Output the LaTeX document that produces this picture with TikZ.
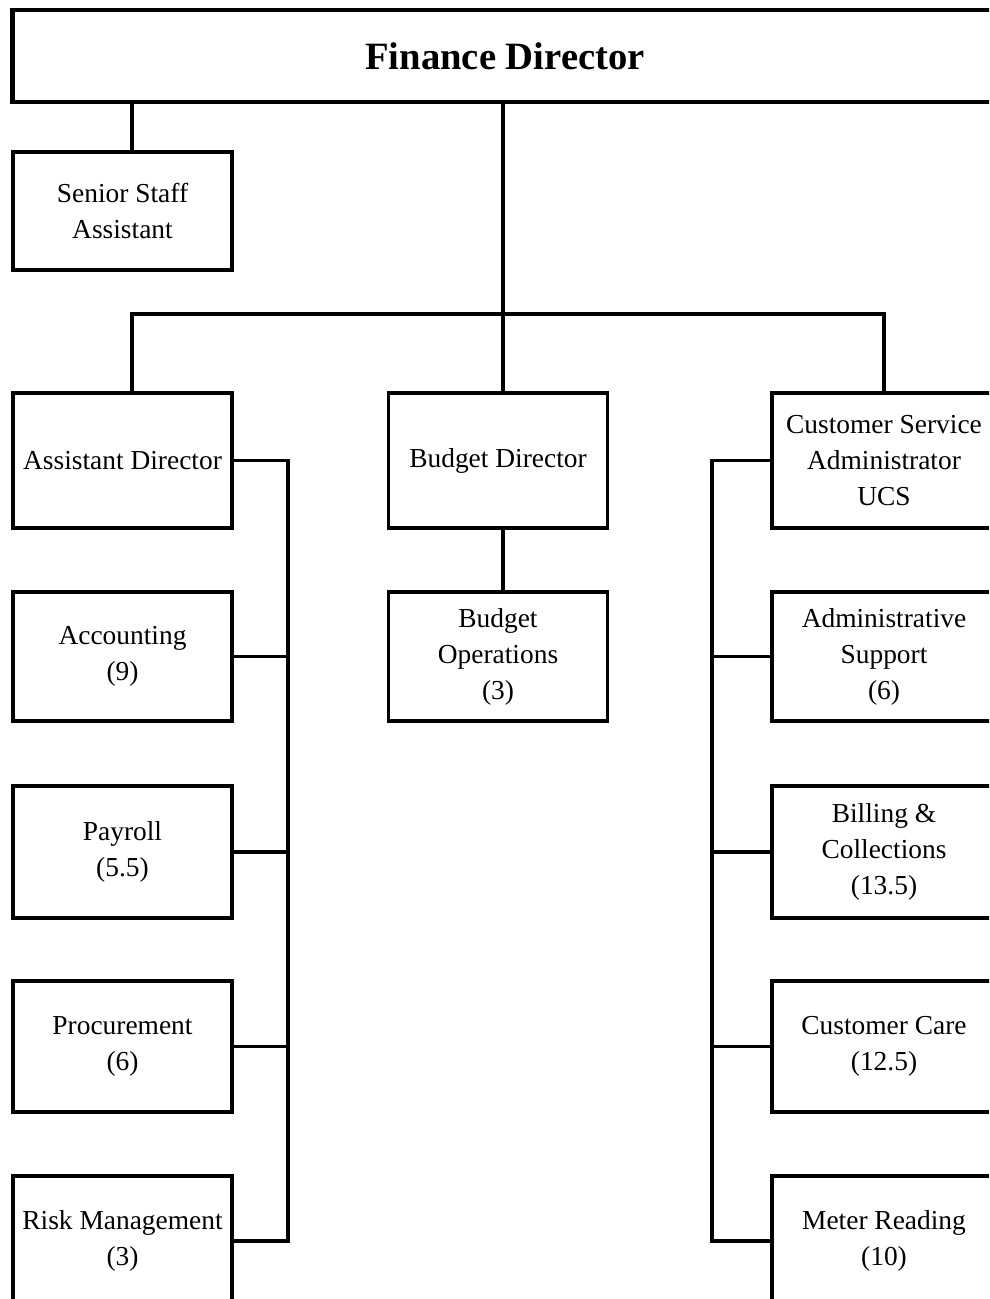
\documentclass[tikz,border=0pt]{standalone}
\usepackage{fontspec}
\setmainfont{Liberation Serif}
\usepackage{tikz}
\usetikzlibrary{positioning}
\usetikzlibrary{calc}

\begin{document}
\begin{tikzpicture}[x=0.025cm, y=-0.025cm,
    unit/.style={draw, line width=2.2pt, fill=white, align=center, inner sep=0pt,
        font=\fontsize{19.5}{25.6}\selectfont, minimum width=5.475cm},
    head/.style={draw, line width=3.4pt, align=center, inner sep=0pt,
        font=\fontsize{27.5}{32}\selectfont\bfseries, minimum width=24.6cm, minimum height=2.3cm},
    link/.style={line width=2.3pt}]

    \useasboundingbox (0,0) rectangle (989,1299);
    \clip (0,0) rectangle (989,1299);

    \node[head] (fd) at (505,56) {Finance Director};

    \node[unit, minimum height=2.95cm] (ssa) at (122.5,211) {Senior Staff\\Assistant};

    % second row
    \node[unit, minimum height=3.375cm] (ad) at (122.5,460.5) {Assistant Director};
    \node[unit, minimum height=3.375cm] (bd) at (498,460.5) {Budget Director};
    \node[unit, minimum height=3.375cm, minimum width=5.6cm] (csa) at (884,460.5) {Customer Service\\Administrator\\UCS};

    \node[unit, minimum height=3.225cm] (bo) at (498,656.5) {Budget\\Operations\\(3)};

    % left column
    \node[unit, minimum height=3.225cm] (acc) at (122.5,656.5) {Accounting\\(9)};
    \node[unit, minimum height=3.3cm] (pay) at (122.5,852) {Payroll\\(5.5)};
    \node[unit, minimum height=3.275cm] (proc) at (122.5,1046.5) {Procurement\\(6)};
    \node[unit, minimum height=3.25cm] (risk) at (122.5,1241) {Risk Management\\(3)};

    % right column
    \node[unit, minimum height=3.225cm, minimum width=5.6cm] (adm) at (884,656.5) {Administrative\\Support\\(6)};
    \node[unit, minimum height=3.3cm, minimum width=5.6cm] (bill) at (884,852) {Billing \&\\Collections\\(13.5)};
    \node[unit, minimum height=3.275cm, minimum width=5.6cm] (care) at (884,1046.5) {Customer Care\\(12.5)};
    \node[unit, minimum height=3.25cm, minimum width=5.6cm] (meter) at (884,1241) {Meter Reading\\(10)};

    \coordinate (lt) at (132,314);
    \coordinate (jn) at (503,314);
    \coordinate (rt) at (884,314);
    \coordinate (lbus) at (288,0);
    \coordinate (rbus) at (712,0);

    \draw[link] (fd.south -| lt) -- (ssa.north -| lt);
    \draw[link] (fd.south -| jn) -- (bd.north -| jn);
    \draw[link] (ad.north -| lt) -- (lt) -- (rt) -- (csa.north -| rt);
    \draw[link] (bd.south -| jn) -- (bo.north -| jn);

    \draw[link] (ad.east) -| (lbus |- risk.east) -- (risk.east);
    \foreach \n in {acc,pay,proc}
        \draw[link] (\n.east) -- (\n.east -| lbus);

    \draw[link] (csa.west) -| (rbus |- meter.west) -- (meter.west);
    \foreach \n in {adm,bill,care}
        \draw[link] (\n.west) -- (\n.west -| rbus);

\end{tikzpicture}
\end{document}
